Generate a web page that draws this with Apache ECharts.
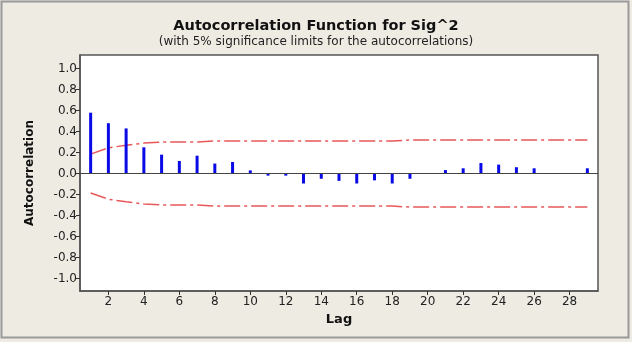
<!DOCTYPE html>
<html>
<head>
<meta charset="utf-8">
<script src="https://cdn.jsdelivr.net/npm/echarts@6/dist/echarts.min.js"></script>
<style>
  html, body { margin: 0; padding: 0; background: #eeebe3; }
  #chart { width: 632px; height: 342px; }
</style>
</head>
<body>
<div id="chart"></div>
<script>
// lags and autocorrelations
const lags = [1, 2, 3, 4, 5, 6, 7, 8, 9, 10, 11, 12, 13, 14, 15, 16, 17, 18, 19, 20, 21, 22, 23, 24, 25, 26, 27, 28, 29];
const acf = [0.58, 0.48, 0.43, 0.25, 0.18, 0.12, 0.17, 0.095, 0.11, 0.03, -0.02, -0.02, -0.095, -0.05, -0.07, -0.095, -0.065, -0.095, -0.05, 0.0, 0.033, 0.05, 0.10, 0.085, 0.06, 0.05, -0.005, 0.005, 0.05];
// 5% significance limit (upper; lower is the mirror)
const limit = [0.185, 0.245, 0.27, 0.29, 0.30, 0.30, 0.30, 0.31, 0.31, 0.31, 0.31, 0.31, 0.31, 0.31, 0.31, 0.31, 0.31, 0.31, 0.32, 0.32, 0.32, 0.32, 0.32, 0.32, 0.32, 0.32, 0.32, 0.32, 0.32];
const xTicks = [2, 4, 6, 8, 10, 12, 14, 16, 18, 20, 22, 24, 26, 28];
const yTicks = [-1.0, -0.8, -0.6, -0.4, -0.2, 0.0, 0.2, 0.4, 0.6, 0.8, 1.0];

const chart = echarts.init(document.getElementById('chart'));
const font = 'DejaVu Sans';
const limitStyle = { color: '#e8585a', width: 1.5, type: [16, 4, 3, 4] };

chart.setOption({
    backgroundColor: '#eeebe3',
    animation: false,
    title: {
        text: 'Autocorrelation Function for Sig^2',
        subtext: '(with 5% significance limits for the autocorrelations)',
        left: 'center',
        top: 14,
        itemGap: 2,
        textStyle: { fontFamily: font, fontSize: 14.5, fontWeight: 'bold', color: '#111' },
        subtextStyle: { fontFamily: font, fontSize: 12, color: '#222' }
    },
    graphic: [{
        type: 'rect',
        shape: { x: 1.5, y: 1.5, width: 627, height: 336 },
        style: { fill: 'none', stroke: '#999', lineWidth: 2 },
        silent: true
    }],
    grid: {
        left: 80, right: 34, top: 55, bottom: 51,
        show: true,
        backgroundColor: '#fff',
        borderColor: '#555',
        borderWidth: 1.5
    },
    xAxis: {
        type: 'value',
        min: 0.4,
        max: 29.6,
        name: 'Lag',
        nameLocation: 'middle',
        nameGap: 21,
        nameTextStyle: { fontFamily: font, fontSize: 13, fontWeight: 'bold', color: '#111' },
        axisLine: { onZero: false, lineStyle: { color: '#555', width: 1.5 } },
        axisTick: { customValues: xTicks, length: 4, lineStyle: { color: '#333' } },
        axisLabel: { customValues: xTicks, fontFamily: font, fontSize: 12, color: '#222', margin: 5 },
        splitLine: { show: false }
    },
    yAxis: {
        type: 'value',
        min: -1.12,
        max: 1.13,
        name: 'Autocorrelation',
        nameLocation: 'middle',
        nameGap: 44,
        nameTextStyle: { fontFamily: font, fontSize: 12, fontWeight: 'bold', color: '#111' },
        axisLine: { show: true, onZero: false, lineStyle: { color: '#555', width: 1.5 } },
        axisTick: { customValues: yTicks, length: 4, lineStyle: { color: '#333' } },
        axisLabel: {
            customValues: yTicks,
            fontFamily: font, fontSize: 12, color: '#222', margin: 3,
            formatter: v => v.toFixed(1)
        },
        splitLine: { show: false }
    },
    series: [
        {
            type: 'bar',
            barWidth: 3,
            itemStyle: { color: '#0a0ae6' },
            data: lags.map((l, i) => [l, acf[i]]),
            markLine: {
                silent: true,
                symbol: 'none',
                label: { show: false },
                lineStyle: { color: '#444', width: 1, type: 'solid' },
                data: [{ yAxis: 0 }]
            },
            z: 3
        },
        {
            type: 'line',
            symbol: 'none',
            lineStyle: limitStyle,
            data: lags.map((l, i) => [l, limit[i]]),
            z: 2
        },
        {
            type: 'line',
            symbol: 'none',
            lineStyle: limitStyle,
            data: lags.map((l, i) => [l, -limit[i]]),
            z: 2
        }
    ]
});
</script>
</body>
</html>
